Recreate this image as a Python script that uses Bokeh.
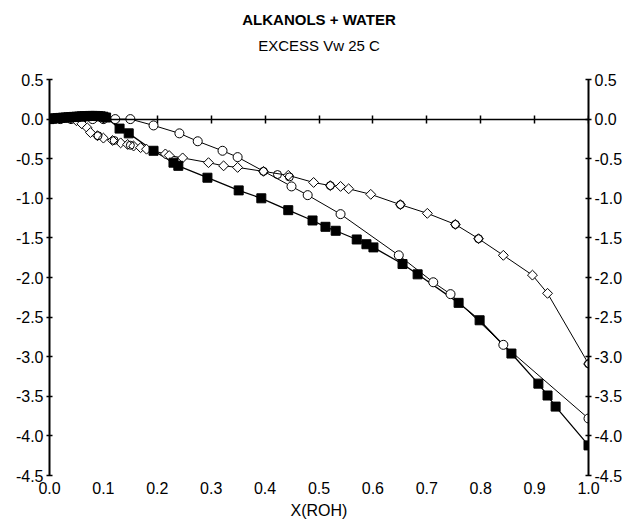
import numpy as np
from bokeh.plotting import figure
from bokeh.models import LinearAxis, FixedTicker, NumeralTickFormatter, Title
from bokeh.embed import file_html
from bokeh.resources import INLINE

# ---- data ----
x_ticks = [0.0, 0.1, 0.2, 0.3, 0.4, 0.5, 0.6, 0.7, 0.8, 0.9, 1.0]
y_ticks = [0.5, 0.0, -0.5, -1.0, -1.5, -2.0, -2.5, -3.0, -3.5, -4.0, -4.5]

sq_x = [0.000, 0.005, 0.010, 0.015, 0.020, 0.025, 0.030, 0.035, 0.040, 0.045, 0.050,
        0.055, 0.060, 0.065, 0.070, 0.075, 0.080, 0.085, 0.090, 0.095, 0.100, 0.105,
        0.130, 0.147, 0.193, 0.230, 0.239, 0.293, 0.351, 0.393, 0.443, 0.488, 0.512,
        0.531, 0.570, 0.588, 0.601, 0.655, 0.683, 0.759, 0.798, 0.857, 0.907, 0.924,
        0.939, 1.000]
sq_y = [0.00, 0.005, 0.01, 0.012, 0.015, 0.018, 0.02, 0.022, 0.025, 0.028, 0.03,
        0.032, 0.035, 0.036, 0.038, 0.04, 0.04, 0.04, 0.038, 0.035, 0.03, 0.02,
        -0.12, -0.18, -0.40, -0.55, -0.59, -0.74, -0.90, -1.00, -1.15, -1.28, -1.36,
        -1.41, -1.52, -1.58, -1.62, -1.83, -1.96, -2.32, -2.54, -2.96, -3.34, -3.49,
        -3.63, -4.12]

circ_x = [0.0, 0.02, 0.04, 0.06, 0.08, 0.10, 0.122, 0.150, 0.193, 0.241, 0.275, 0.321,
          0.349, 0.449, 0.479, 0.540, 0.648, 0.712, 0.744, 0.842, 1.0]
circ_y = [0.0, 0.0, 0.0, 0.0, 0.0, 0.0, 0.0, 0.0, -0.08, -0.18, -0.28, -0.40,
          -0.48, -0.85, -0.96, -1.20, -1.72, -2.06, -2.21, -2.85, -3.78]

dia_x = [0.0, 0.02, 0.04, 0.05, 0.06, 0.07, 0.076, 0.089, 0.10, 0.117, 0.132, 0.145,
         0.156, 0.169, 0.18, 0.215, 0.222, 0.247, 0.295, 0.323, 0.349, 0.397, 0.443,
         0.490, 0.521, 0.540, 0.555, 0.596, 0.651, 0.701, 0.753, 0.796, 0.842, 0.896,
         0.924, 1.0]
dia_y = [0.0, 0.01, 0.01, -0.02, -0.06, -0.11, -0.17, -0.21, -0.24, -0.27, -0.30, -0.32,
         -0.34, -0.36, -0.38, -0.44, -0.46, -0.49, -0.55, -0.59, -0.61, -0.66, -0.71,
         -0.80, -0.84, -0.85, -0.88, -0.95, -1.08, -1.19, -1.33, -1.51, -1.72, -1.97,
         -2.20, -3.09]

c2_x = [0.09, 0.12, 0.15, 0.397, 0.423, 0.445, 0.521, 0.651, 0.753, 0.796, 1.0]
c2_y = [-0.21, -0.27, -0.33, -0.66, -0.70, -0.73, -0.84, -1.08, -1.33, -1.51, -3.09]

title1 = "ALKANOLS + WATER"
title2 = "EXCESS Vw 25 C"
xlabel = "X(ROH)"

FONT = "'Liberation Sans Narrow', 'Liberation Sans', Arial, sans-serif"

p = figure(width=634, height=521, x_range=(0, 1), y_range=(-4.5, 0.5),
           x_axis_location=None, y_axis_location=None,
           toolbar_location=None, output_backend="svg",
           min_border_left=49, min_border_right=46, min_border_top=79, min_border_bottom=46,
           outline_line_color=None, background_fill_color="white")
p.grid.grid_line_color = None


def style_y(ax):
    ax.ticker = FixedTicker(ticks=y_ticks)
    ax.formatter = NumeralTickFormatter(format="0.0")
    ax.axis_line_width = 2
    ax.axis_line_color = "black"
    ax.major_tick_in = 3
    ax.major_tick_out = 3
    ax.major_tick_line_width = 1.5
    ax.minor_tick_line_color = None
    ax.major_label_standoff = 3
    ax.major_label_text_font = FONT
    ax.major_label_text_font_size = "16px"
    ax.major_label_text_color = "black"


ly = LinearAxis()
style_y(ly)
p.add_layout(ly, "left")
ry = LinearAxis()
style_y(ry)
p.add_layout(ry, "right")

bx = LinearAxis()
bx.ticker = FixedTicker(ticks=x_ticks)
bx.formatter = NumeralTickFormatter(format="0.0")
bx.axis_line_color = None
bx.major_tick_line_color = None
bx.major_tick_out = 0
bx.major_tick_in = 0
bx.minor_tick_line_color = None
bx.major_label_standoff = 6
bx.major_label_text_font = FONT
bx.major_label_text_font_size = "16px"
bx.major_label_text_color = "black"
bx.axis_label = xlabel
bx.axis_label_standoff = 5
bx.axis_label_text_font = FONT
bx.axis_label_text_font_size = "16px"
bx.axis_label_text_font_style = "normal"
bx.axis_label_text_color = "black"
p.add_layout(bx, "below")

zx = LinearAxis(fixed_location=0)
zx.ticker = FixedTicker(ticks=x_ticks)
zx.axis_line_width = 1.5
zx.major_tick_in = 4
zx.major_tick_out = 4
zx.major_tick_line_width = 1.5
zx.minor_tick_line_color = None
zx.major_label_text_color = None
zx.major_label_text_font_size = "1px"
zx.major_label_standoff = 0
p.add_layout(zx, "below")

# ---- series ----
p.line(circ_x, circ_y, line_color="black", line_width=1)
p.line(dia_x, dia_y, line_color="black", line_width=1)
p.line(sq_x, sq_y, line_color="black", line_width=1.3)

p.scatter(circ_x, circ_y, marker="circle", size=9, fill_color="white",
          line_color="black", line_width=1)
p.scatter(dia_x, dia_y, marker="square", angle=np.pi / 4, size=7, fill_color="white",
          line_color="black", line_width=1)
p.scatter(c2_x, c2_y, marker="circle", size=8, fill_color=None,
          line_color="black", line_width=1)
p.scatter(sq_x, sq_y, marker="square", size=9, fill_color="black",
          line_color="black", line_width=1)

# ---- titles ----
p.add_layout(Title(text=title2, align="center", standoff=52,
                   text_font=FONT, text_font_size="15px", text_font_style="normal",
                   text_color="black"), "above")
p.add_layout(Title(text=title1, align="center", standoff=-38,
                   text_font=FONT, text_font_size="15px", text_font_style="bold",
                   text_color="black"), "above")

open("out.html", "w").write(file_html(p, INLINE))
